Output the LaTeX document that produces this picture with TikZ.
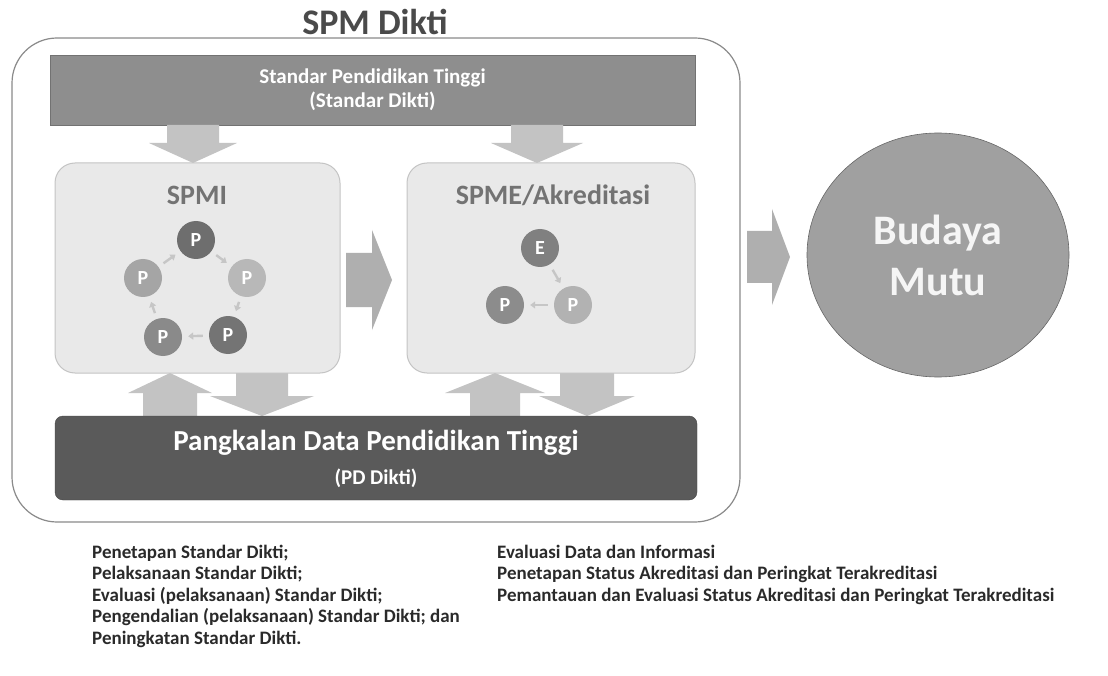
\documentclass[tikz,border=0pt]{standalone}
\usepackage{fontspec}
\setmainfont{Carlito}
\usetikzlibrary{shapes.geometric,arrows.meta}
\definecolor{outerline}{HTML}{8A8A8A}
\definecolor{barfill}{HTML}{8E8E8E}
\definecolor{boxfill}{HTML}{E9E9E9}
\definecolor{boxline}{HTML}{C4C4C4}
\definecolor{pdfill}{HTML}{5A5A5A}
\definecolor{arrfill}{HTML}{C3C3C3}
\definecolor{titlegray}{HTML}{4A4A4A}
\definecolor{subgray}{HTML}{737373}
\definecolor{budfill}{HTML}{A0A0A0}
\definecolor{txtdark}{HTML}{2A2A2A}
\definecolor{cA}{HTML}{6E6E6E}
\definecolor{cB}{HTML}{A5A5A5}
\definecolor{cC}{HTML}{B8B8B8}
\definecolor{cD}{HTML}{8A8A8A}
\definecolor{cE}{HTML}{747474}
\definecolor{cF}{HTML}{808080}
\definecolor{cG}{HTML}{8C8C8C}
\definecolor{cH}{HTML}{B2B2B2}
% vertical block arrow pointing down: cx, ytop, ybot, bodyhalf, headhalf, headlen
\newcommand\blkdown[6]{\fill[arrfill] (#1-#4,#2) -- (#1+#4,#2) -- (#1+#4,#3-#6) -- (#1+#5,#3-#6) -- (#1,#3) -- (#1-#5,#3-#6) -- (#1-#4,#3-#6) -- cycle;}
% vertical block arrow pointing up: cx, ytip, ybot, bodyhalf, headhalf, headlen
\newcommand\blkup[6]{\fill[arrfill] (#1-#4,#3) -- (#1+#4,#3) -- (#1+#4,#2+#6) -- (#1+#5,#2+#6) -- (#1,#2) -- (#1-#5,#2+#6) -- (#1-#4,#2+#6) -- cycle;}
% horizontal block arrow pointing right: cy, xleft, xtip, bodyhalf, headhalf, headlen
\newcommand\blkright[6]{\fill[arrfill!90!black] (#2,#1-#4) -- (#3-#6,#1-#4) -- (#3-#6,#1-#5) -- (#3,#1) -- (#3-#6,#1+#5) -- (#3-#6,#1+#4) -- (#2,#1+#4) -- cycle;}
\begin{document}
\begin{tikzpicture}[x=1pt,y=-1pt,
  outerbox/.style={draw=outerline, line width=1.2pt, fill=white, rounded corners=45pt, inner sep=0pt},
  topbar/.style={fill=barfill, draw=barfill!80!black, line width=0.6pt, inner sep=0pt, text=white, align=center, font=\fontsize{21}{24}\selectfont\bfseries},
  innerbox/.style={fill=boxfill, draw=boxline, line width=1pt, rounded corners=20pt, inner sep=0pt},
  boxtitle/.style={text=subgray, font=\fontsize{28}{30}\selectfont\bfseries},
  pdbar/.style={fill=pdfill, draw=pdfill!80!black, rounded corners=8pt, inner sep=0pt},
  whitetxt/.style={text=white, font=\bfseries},
  pc/.style={circle, minimum size=38pt, inner sep=0pt, text=white, font=\fontsize{20}{20}\selectfont\bfseries},
  smallarr/.style={-{Triangle[length=5pt,width=7pt]}, line width=2.4pt, draw=gray!45, shorten >=6pt, shorten <=6pt},
  bud/.style={ellipse, fill=budfill, draw=gray!80!black, line width=0.6pt, minimum width=262pt, minimum height=244pt, inner sep=0pt, text=white!92!gray, align=center, font=\fontsize{42}{51}\selectfont\bfseries},
  listtxt/.style={text=txtdark, align=left, anchor=west, inner sep=0pt, font=\fontsize{19}{21.5}\selectfont\bfseries}
]
\useasboundingbox (0,0) rectangle (1108,676);

% outer container
\node[outerbox, minimum width=728pt, minimum height=484pt] (outer) at (376,280) {};
\node[text=titlegray, font=\fontsize{36}{40}\selectfont\bfseries] (title) at (375,22) {SPM Dikti};

% top bar
\node[topbar, minimum width=645pt, minimum height=70pt] (std) at (372.5,90) {Standar Pendidikan Tinggi\\(Standar Dikti)};

% arrows from top bar
\blkdown{193}{125}{163}{26}{44}{20}
\blkdown{537}{125}{163}{26}{46}{20}

% bottom up/down arrows
\blkup{170}{373}{416}{27}{42}{20}
\blkdown{262}{373}{416}{26}{52}{20}
\blkup{495}{373}{416}{25}{50}{20}
\blkdown{587}{373}{416}{27}{48}{20}

% inner boxes
\node[innerbox, minimum width=285pt, minimum height=210pt] (spmi) at (197.5,268) {};
\node[innerbox, minimum width=288pt, minimum height=210pt] (spme) at (551,268) {};
\node[boxtitle] (spmit) at (197,195) {SPMI};
\node[boxtitle] (spmet) at (553,195) {SPME/Akreditasi};

% arrow between boxes and to Budaya Mutu
\blkright{280}{346}{392}{27}{50}{20}
\blkright{257}{747}{790}{26}{48}{18}

% PD Dikti bar
\node[pdbar, minimum width=642pt, minimum height=84pt] (pd) at (376,458) {};
\node[whitetxt, font=\fontsize{29}{32}\selectfont\bfseries] (pdt1) at (376,443) {Pangkalan Data Pendidikan Tinggi};
\node[whitetxt, font=\fontsize{21}{24}\selectfont\bfseries] (pdt2) at (376,478) {(PD Dikti)};

% SPMI cycle
\node[pc, fill=cA] (p1) at (196,240) {P};
\node[pc, fill=cC] (p2) at (247,278) {P};
\node[pc, fill=cE] (p3) at (228,335) {P};
\node[pc, fill=cD] (p4) at (163,337) {P};
\node[pc, fill=cB] (p5) at (143,278) {P};
\draw[smallarr] (p1) -- (p2);
\draw[smallarr] (p2) -- (p3);
\draw[smallarr] (p3) -- (p4);
\draw[smallarr] (p4) -- (p5);
\draw[smallarr] (p5) -- (p1);

% SPME cycle
\node[pc, fill=cF] (e1) at (540,248) {E};
\node[pc, fill=cH] (e2) at (573,305) {P};
\node[pc, fill=cG] (e3) at (505,305) {P};
\draw[smallarr] (e1) -- (e2);
\draw[smallarr] (e2) -- (e3);

% Budaya Mutu
\node[bud] (budaya) at (938,255) {Budaya\\Mutu};

% lists
\node[listtxt] (listL) at (92,596) {Penetapan Standar Dikti;\\Pelaksanaan Standar Dikti;\\Evaluasi (pelaksanaan) Standar Dikti;\\Pengendalian (pelaksanaan) Standar Dikti; dan\\Peningkatan Standar Dikti.};
\node[listtxt] (listR) at (497,574.5) {Evaluasi Data dan Informasi\\Penetapan Status Akreditasi dan Peringkat Terakreditasi\\Pemantauan dan Evaluasi Status Akreditasi dan Peringkat Terakreditasi};
\end{tikzpicture}
\end{document}
